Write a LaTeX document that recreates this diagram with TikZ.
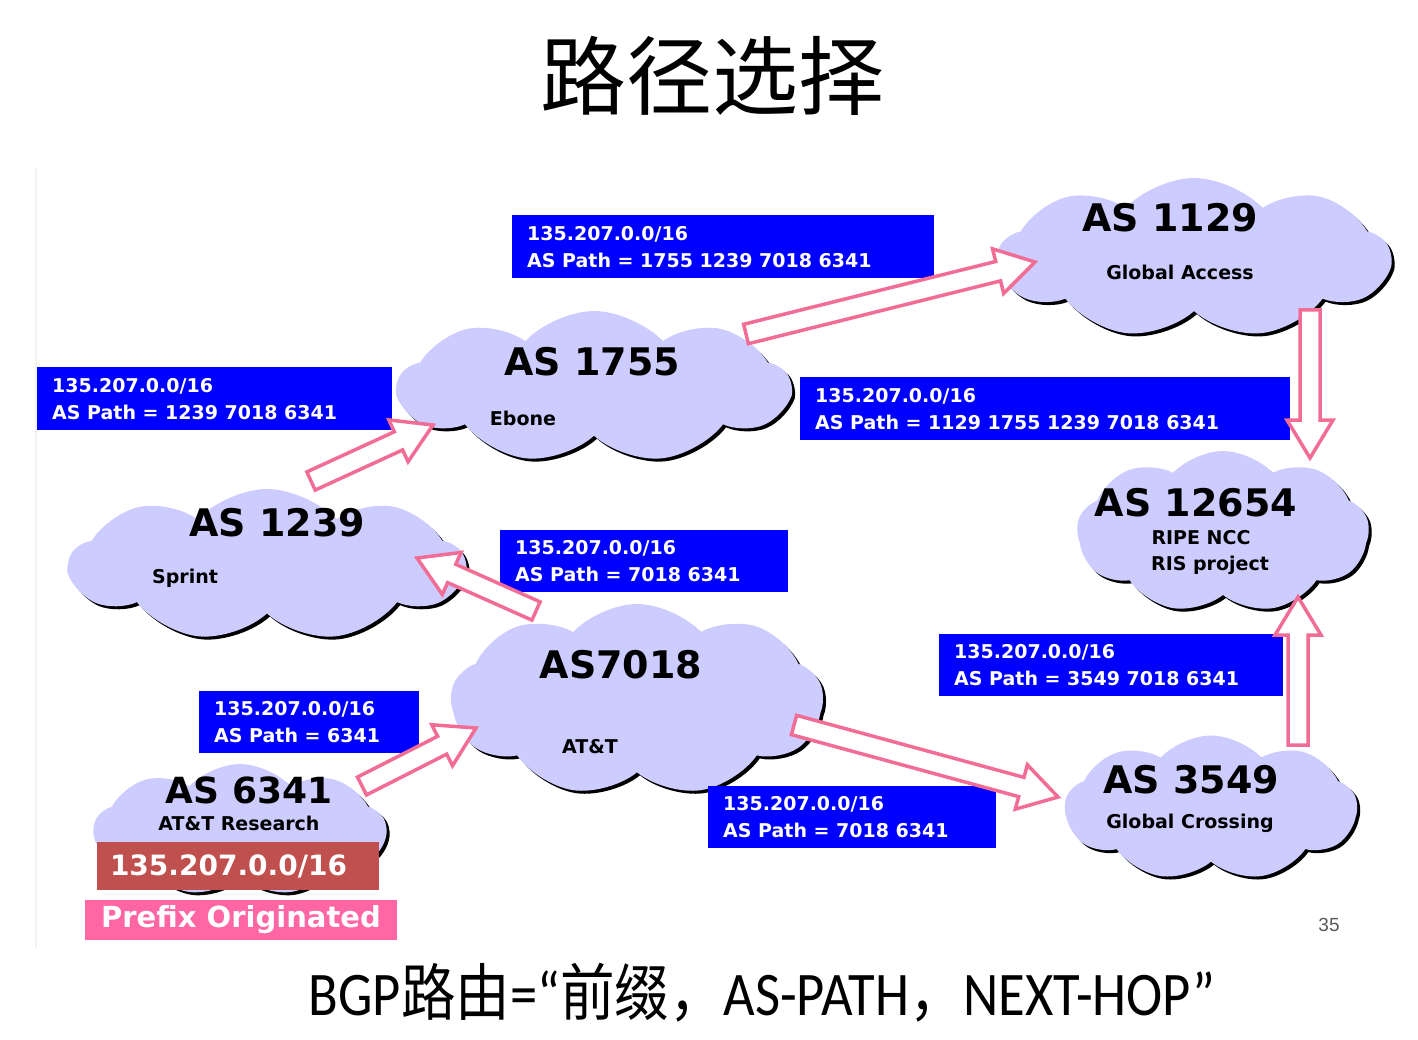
\documentclass[tikz,border=0pt]{standalone}
\usepackage{fontspec}
\setmainfont{DejaVu Sans}
\newfontfamily\cjk{Noto Sans CJK SC}
\newfontfamily\bodyfont{Carlito}
\newfontfamily\pagefont{Liberation Sans}
\usetikzlibrary{shapes.symbols,shadows,calc,positioning}
\definecolor{asblue}{HTML}{0000FF}
\definecolor{asfill}{HTML}{CCCCFF}
\definecolor{flowpink}{HTML}{F26D95}
\definecolor{originred}{HTML}{C0504D}
\definecolor{originpink}{HTML}{FF66A3}

\tikzset{
  ascloud/.style={cloud,cloud puffs=9,cloud puff arc=95,aspect=2.5,
        fill=asfill,inner sep=0pt,
        drop shadow={shadow xshift=3pt,shadow yshift=-3pt,fill=black,opacity=1}},
  asname/.style={font=\bfseries\fontsize{38}{40}\selectfont,inner sep=0pt},
  asorg/.style={font=\bfseries\fontsize{19}{27}\selectfont,inner sep=0pt,align=center},
  pathbox/.style={fill=asblue,text=white,anchor=north west,inner sep=0pt,
        font=\bfseries\fontsize{19}{27}\selectfont,align=left},
  flow/.style={draw=flowpink,fill=white,line width=3.5pt,line join=miter}
}

% hollow block arrow: tail, tip
\newcommand\flowarrow[2]{%
  \coordinate (fh) at ($(#2)!38pt!(#1)$);
  \draw[flow] ($(#1)!10pt!90:(#2)$) -- ($(fh)!10pt!90:(#2)$) -- ($(fh)!23pt!90:(#2)$)
    -- (#2) -- ($(fh)!23pt!-90:(#2)$) -- ($(fh)!10pt!-90:(#2)$)
    -- ($(#1)!10pt!-90:(#2)$) -- cycle;}

% blue path box: name, corner, width, height, text
\newcommand\pathnote[5]{%
  \node[pathbox,minimum width=#3,minimum height=#4] (#1) at (#2) {};
  \node[pathbox,anchor=west,text=white,fill=none] at ([xshift=15pt]#1.west) {#5};}

\begin{document}
\begin{tikzpicture}[x=1pt,y=-1pt]
  \useasboundingbox (0,0) rectangle (1418,1040);
  \draw[gray!10,line width=2pt] (36,168) -- (36,948);

  \node[font=\cjk\fontsize{86}{90}\selectfont] (title) at (712,76) {路径选择};

  % clouds
  \node[ascloud,minimum width=392pt,minimum height=160pt] (c1129) at (1194,258) {};
  \node[ascloud,minimum width=392pt,minimum height=152pt] (c1755) at (594,387) {};
  \node[ascloud,minimum width=395pt,minimum height=152pt] (c1239) at (267,565) {};
  \node[ascloud,minimum width=372pt,minimum height=192pt] (c7018) at (637,700) {};
  \node[ascloud,minimum width=292pt,minimum height=132pt] (c6341) at (240,830) {};
  \node[ascloud,minimum width=292pt,minimum height=162pt] (c12654) at (1223,532) {};
  \node[ascloud,minimum width=292pt,minimum height=145pt] (c3549) at (1211,808) {};

  \node[asname] at (1170,218) {AS 1129};
  \node[asorg]  at (1180,272) {Global Access};
  \node[asname] at (592,362) {AS 1755};
  \node[asorg]  at (523,418) {Ebone};
  \node[asname] at (277,523) {AS 1239};
  \node[asorg]  at (185,578) {Sprint};
  \node[asname] at (621,665) {AS7018};
  \node[asorg]  at (590,747) {AT\&T};
  \node[asname,font=\bfseries\fontsize{36}{38}\selectfont] at (249,790) {AS 6341};
  \node[asorg]  at (239,823) {AT\&T Research};
  \node[asname] at (1196,503) {AS 12654};
  \node[asorg]  at (1201,538) {RIPE NCC};
  \node[asorg]  at (1210,565) {RIS project};
  \node[asname] at (1191,780) {AS 3549};
  \node[asorg]  at (1190,823) {Global Crossing};

  % origin of the prefix
  \node[fill=originred,minimum width=282pt,minimum height=48pt,inner sep=0pt] (origin) at (238,866) {};
  \node[text=white,font=\bfseries\fontsize{28}{30}\selectfont,anchor=west,inner sep=0pt]
       at ([xshift=13pt]origin.west) {135.207.0.0/16};
  \node[fill=originpink,text=white,minimum width=312pt,minimum height=40pt,inner sep=0pt,
        font=\bfseries\fontsize{29}{30}\selectfont] (prefix) at (241,920) {Prefix Originated};

  % announcements
  \pathnote{p1755}{512,215}{422pt}{63pt}{135.207.0.0/16\\AS Path = 1755 1239 7018 6341}
  \pathnote{p1239}{37,367}{355pt}{63pt}{135.207.0.0/16\\AS Path = 1239 7018 6341}
  \pathnote{p1129}{800,377}{490pt}{63pt}{135.207.0.0/16\\AS Path = 1129 1755 1239 7018 6341}
  \pathnote{p7018a}{500,530}{288pt}{62pt}{135.207.0.0/16\\AS Path = 7018 6341}
  \pathnote{p6341}{199,691}{220pt}{62pt}{135.207.0.0/16\\AS Path = 6341}
  \pathnote{p3549}{939,634}{344pt}{62pt}{135.207.0.0/16\\AS Path = 3549 7018 6341}
  \pathnote{p7018b}{708,786}{288pt}{62pt}{135.207.0.0/16\\AS Path = 7018 6341}

  % arrow ends
  \coordinate (t6341) at (362,786);   \coordinate (h7018) at (476,728);
  \coordinate (t1239) at (311,481);   \coordinate (h1755) at (433,425);
  \coordinate (t7018a) at (536,611);  \coordinate (h1239) at (417,558);
  \coordinate (t1755) at (746,334);   \coordinate (h1129) at (1035,262);
  \coordinate (t1129) at (1310,310);  \coordinate (h12654a) at (1310,458);
  \coordinate (t3549) at (1298,745);  \coordinate (h12654b) at (1298,597);
  \coordinate (t7018b) at (794,725);  \coordinate (h3549) at (1058,797);

  \flowarrow{t6341}{h7018}
  \flowarrow{t1239}{h1755}
  \flowarrow{t7018a}{h1239}
  \flowarrow{t1755}{h1129}
  \flowarrow{t1129}{h12654a}
  \flowarrow{t3549}{h12654b}
  \flowarrow{t7018b}{h3549}

  \node[font=\pagefont\fontsize{19}{20}\selectfont,text=black!65] (page) at (1329,925) {35};

  \node[xscale=0.88,font=\fontsize{62}{66}\selectfont] (route) at (762,993)
    {{\bodyfont BGP}{\cjk 路由}{\bodyfont =“}{\cjk 前缀，}{\bodyfont AS-PATH}{\cjk ，}{\bodyfont NEXT-HOP”}};
\end{tikzpicture}
\end{document}
